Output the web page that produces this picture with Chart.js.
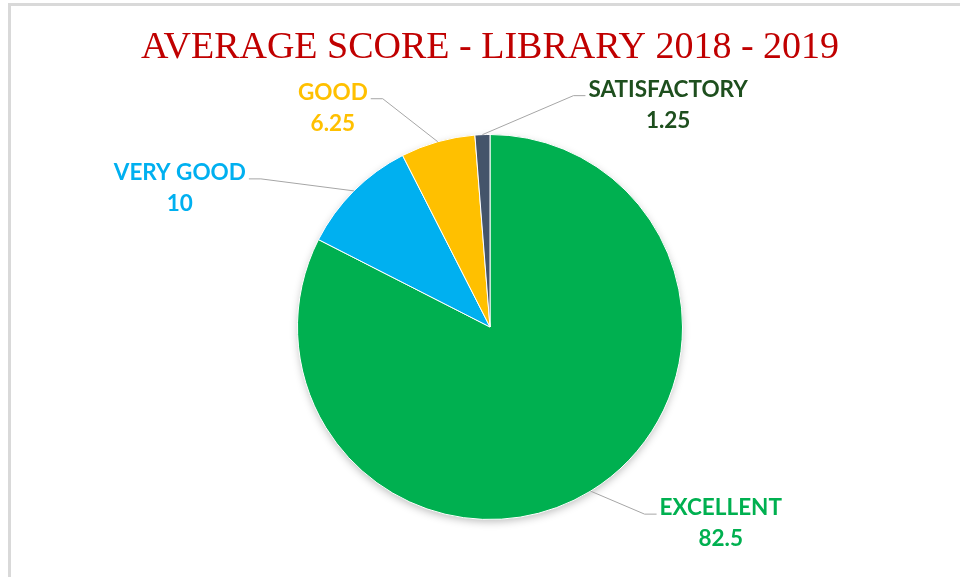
<!DOCTYPE html>
<html>
<head>
<meta charset="utf-8">
<script src="https://cdn.jsdelivr.net/npm/chart.js@4/dist/chart.umd.min.js"></script>
<style>
    html, body { margin: 0; padding: 0; background: #fff; }
    #wrap { position: relative; width: 960px; height: 577px; overflow: hidden; }
    #frame { position: absolute; left: 8px; top: 3px; right: -4px; bottom: -4px; border-top: 3px solid #d9d9d9; border-left: 3px solid #d9d9d9; }
    canvas { position: absolute; left: 0; top: 0; }
</style>
</head>
<body>
<div id="wrap">
    <div id="frame"></div>
    <canvas id="scoreChart" width="960" height="577"></canvas>
</div>
<script>
// Data
const categories = ['EXCELLENT', 'VERY GOOD', 'GOOD', 'SATISFACTORY'];
const scores = [82.5, 10, 6.25, 1.25];
const chartTitle = 'AVERAGE SCORE - LIBRARY 2018 - 2019';

// Styles
const sliceColors = ['#00b050', '#00b0f0', '#ffc000', '#44546a'];
const labelColors = ['#00b050', '#00b0f0', '#ffc000', '#1e4f1e'];

// leader line layout per slice: elbow offset from slice edge, side of the text
const labelLayout = [
    { dx: 54, dy: 23, side: 'right' },
    { dx: -93, dy: -12, side: 'left' },
    { dx: -55, dy: -43, side: 'left' },
    { dx: 91, dy: -39, side: 'right' }
];

const pieShadow = {
    id: 'pieShadow',
    beforeDatasetsDraw(chart) {
        const arc = chart.getDatasetMeta(0).data[0];
        if (!arc) return;
        const { x, y, outerRadius } = arc.getProps(['x', 'y', 'outerRadius'], true);
        const ctx = chart.ctx;
        ctx.save();
        ctx.shadowColor = 'rgba(0, 0, 0, 0.28)';
        ctx.shadowBlur = 9;
        ctx.shadowOffsetY = 3;
        ctx.beginPath();
        ctx.arc(x, y, outerRadius - 1, 0, Math.PI * 2);
        ctx.fillStyle = '#ffffff';
        ctx.fill();
        ctx.restore();
    }
};

const leaderLabels = {
    id: 'leaderLabels',
    afterDatasetsDraw(chart) {
        const ctx = chart.ctx;
        const meta = chart.getDatasetMeta(0);
        ctx.save();
        meta.data.forEach((arc, i) => {
            const p = arc.getProps(['x', 'y', 'startAngle', 'endAngle', 'outerRadius'], true);
            const mid = (p.startAngle + p.endAngle) / 2;
            const ex = p.x + Math.cos(mid) * p.outerRadius;
            const ey = p.y + Math.sin(mid) * p.outerRadius;
            const lay = labelLayout[i];
            const bx = ex + lay.dx;
            const by = ey + lay.dy;
            const dir = lay.side === 'right' ? 1 : -1;
            const tx = bx + dir * 12;

            ctx.beginPath();
            ctx.moveTo(ex, ey);
            ctx.lineTo(bx, by);
            ctx.lineTo(tx, by);
            ctx.strokeStyle = '#a6a6a6';
            ctx.lineWidth = 1;
            ctx.stroke();

            ctx.font = 'bold 22.5px Lato, "Open Sans", sans-serif';
            const name = chart.data.labels[i];
            const w = ctx.measureText(name).width;
            const cx = tx + dir * (3 + w / 2);
            ctx.fillStyle = labelColors[i];
            ctx.textAlign = 'center';
            ctx.textBaseline = 'middle';
            ctx.fillText(name, cx, by - 6);
            ctx.fillText(String(chart.data.datasets[0].data[i]), cx, by + 25);
        });
        ctx.restore();
    }
};

new Chart(document.getElementById('scoreChart'), {
    type: 'pie',
    data: {
        labels: categories,
        datasets: [{
            data: scores,
            backgroundColor: sliceColors,
            borderColor: '#ffffff',
            borderWidth: 1
        }]
    },
    options: {
        responsive: false,
        animation: false,
        layout: {
            padding: { top: 0, bottom: 57, left: 20, right: 0 }
        },
        plugins: {
            legend: { display: false },
            tooltip: { enabled: false },
            title: {
                display: true,
                text: chartTitle,
                color: '#c00000',
                font: { family: '"Liberation Serif", "DejaVu Serif", serif', size: 38, weight: 'normal' },
                padding: { top: 25, bottom: 63.4 }
            }
        }
    },
    plugins: [pieShadow, leaderLabels]
});
</script>
</body>
</html>
